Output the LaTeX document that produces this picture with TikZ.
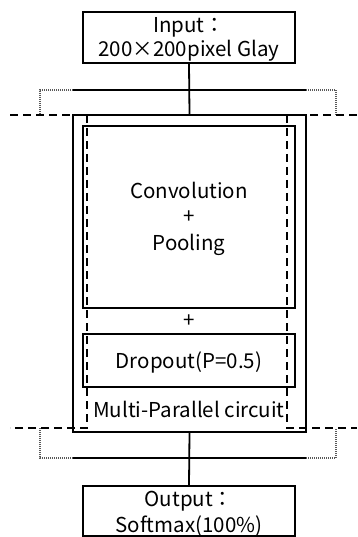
\documentclass[tikz,border=0pt]{standalone}
\usepackage{fontspec}
\setmainfont{Noto Sans CJK JP}
\begin{document}
\begin{tikzpicture}[x=1pt,y=-1pt,
  box/.style={draw,line width=1.8pt,inner sep=0pt},
  lbl/.style={inner sep=0pt,anchor=base,font=\fontsize{20.5}{24}\selectfont},
  solidln/.style={line width=1.8pt},
  dashln/.style={line width=1.8pt,dash pattern=on 8pt off 5pt},
  dotln/.style={line width=1.2pt,dash pattern=on 1pt off 1pt,gray!70!black}]
\useasboundingbox (0,0) rectangle (357,537);
% boxes
\node[box,minimum width=212pt,minimum height=51pt] (in) at (189,37.5) {};
\node[box,minimum width=233pt,minimum height=317pt] (outer) at (189.5,273.5) {};
\node[box,minimum width=212pt,minimum height=182pt] (conv) at (189,217) {};
\node[box,minimum width=212pt,minimum height=53pt] (drop) at (189,360.5) {};
\node[box,minimum width=212pt,minimum height=50pt] (out) at (189,511) {};
% texts
\node[lbl] (in1) at (189,33) {Input：};
\node[lbl] (in2) at (189,57) {200×200pixel Glay};
\node[lbl] (cv1) at (189,198) {Convolution};
\node[lbl] (cv2) at (189,223) {+};
\node[lbl] (cv3) at (189,250) {Pooling};
\node[lbl] (plus) at (189,327) {+};
\node[lbl] (dtx) at (189,368) {Dropout(P=0.5)};
\node[lbl] (mpc) at (189,417) {Multi-Parallel circuit};
\node[lbl] (ot1) at (189,506) {Output：};
\node[lbl] (ot2) at (189,532) {Softmax(100\%)};
% connectors
\coordinate (tl) at (73,90);
\coordinate (tr) at (306,90);
\coordinate (tld) at (40,90);
\coordinate (trd) at (336,90);
\coordinate (tlb) at (40,115);
\coordinate (trb) at (336,115);
\draw[solidln] (in.south) -- (outer.north);
\draw[solidln] (tl) -- (tr);
\draw[dotln] (tl) -- (tld) -- (tlb);
\draw[dotln] (tr) -- (trd) -- (trb);
\coordinate (bl) at (73,458);
\coordinate (br) at (306,458);
\coordinate (bld) at (40,458);
\coordinate (brd) at (336,458);
\coordinate (blt) at (40,428);
\coordinate (brt) at (336,428);
\draw[solidln] (outer.south) -- (out.north);
\draw[solidln] (bl) -- (br);
\draw[dotln] (bl) -- (bld) -- (blt);
\draw[dotln] (br) -- (brd) -- (brt);
% dashed layer bracket
\draw[dashln] (10,115) -- (87,115);
\draw[dashln] (357,115) -- (287,115);
\draw[dashln] (87,115) -- (87,428) -- (10,428);
\draw[dashln] (287,115) -- (287,428) -- (357,428);
\end{tikzpicture}
\end{document}
